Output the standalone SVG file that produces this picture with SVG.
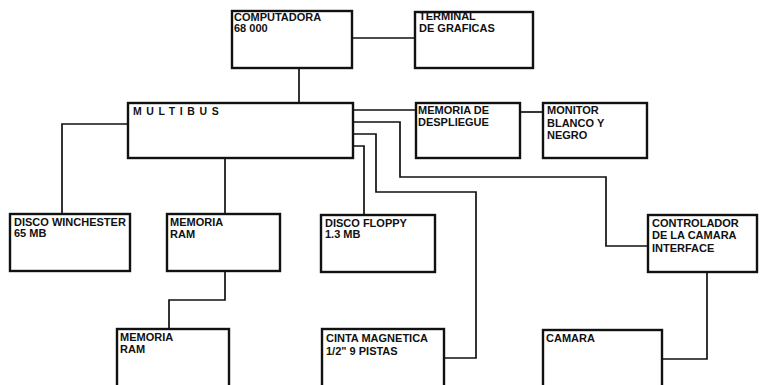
<svg xmlns="http://www.w3.org/2000/svg" width="762" height="385" viewBox="0 0 762 385">
<style>
.box{fill:#fff;stroke:#111;stroke-width:2.4}
.ln{fill:none;stroke:#111;stroke-width:1.7}
text{font-family:"Liberation Sans",Arial,sans-serif;font-weight:bold;font-size:11px;fill:#111}
.wide{letter-spacing:4.6px}
</style>
<rect width="762" height="385" fill="#fff"/>
<g id="connectors">
<path class="ln" d="M352 38H415"/>
<path class="ln" d="M299 68V103"/>
<path class="ln" d="M128 124H62V214"/>
<path class="ln" d="M225 158V214"/>
<path class="ln" d="M353 110H416"/>
<path class="ln" d="M520 112H543"/>
<path class="ln" d="M353 122H400V177H606V246H648"/>
<path class="ln" d="M353 134H376V192H476V358H444"/>
<path class="ln" d="M353 146H364V215"/>
<path class="ln" d="M225 271V300H169V329"/>
<path class="ln" d="M707 272V359H662"/>
</g>
<g id="computadora"><rect class="box" x="232" y="11" width="120" height="57"/><text x="234" y="21">COMPUTADORA</text><text x="234" y="32">68 000</text></g>
<g id="terminal"><rect class="box" x="415" y="12" width="118" height="56"/><text x="419" y="20">TERMINAL</text><text x="419" y="32">DE  GRAFICAS</text></g>
<g id="multibus"><rect class="box" x="128" y="103" width="225" height="55"/><text class="wide" x="133" y="115" style="font-size:10.5px">MULTIBUS</text></g>
<g id="memoria-despliegue"><rect class="box" x="416" y="103" width="104" height="55"/><text x="418" y="114">MEMORIA  DE</text><text x="418" y="126">DESPLIEGUE</text></g>
<g id="monitor"><rect class="box" x="543" y="103" width="104" height="55"/><text x="547" y="114">MONITOR</text><text x="547" y="127">BLANCO Y</text><text x="547" y="139">NEGRO</text></g>
<g id="winchester"><rect class="box" x="10" y="214" width="120" height="57"/><text x="14" y="226">DISCO WINCHESTER</text><text x="14" y="237">65  MB</text></g>
<g id="memoria-ram-1"><rect class="box" x="167" y="214" width="113" height="57"/><text x="170" y="226">MEMORIA</text><text x="170" y="238">RAM</text></g>
<g id="floppy"><rect class="box" x="321" y="215" width="114" height="57"/><text x="325" y="227">DISCO FLOPPY</text><text x="325" y="238">1.3  MB</text></g>
<g id="controlador"><rect class="box" x="648" y="215" width="109" height="57"/><text x="652" y="227">CONTROLADOR</text><text x="652" y="239">DE LA CAMARA</text><text x="652" y="252">INTERFACE</text></g>
<g id="memoria-ram-2"><rect class="box" x="117" y="329" width="112" height="70"/><text x="120" y="341">MEMORIA</text><text x="120" y="353">RAM</text></g>
<g id="cinta"><rect class="box" x="322" y="329" width="122" height="70"/><text x="326" y="342">CINTA MAGNETICA</text><text x="326" y="355">1/2"  9  PISTAS</text></g>
<g id="camara"><rect class="box" x="543" y="330" width="119" height="70"/><text x="546" y="342">CAMARA</text></g>
</svg>
